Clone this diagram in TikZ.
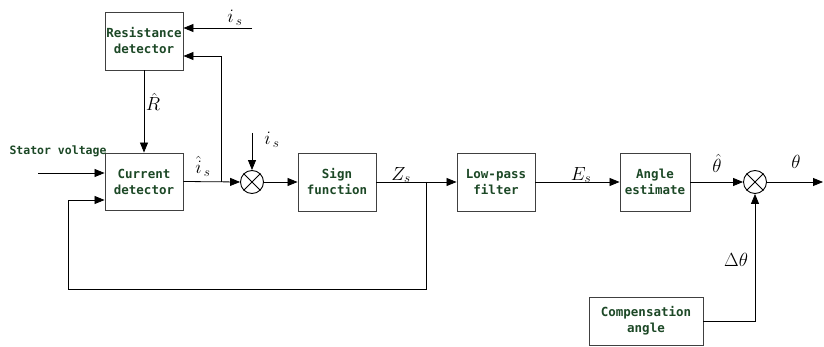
\documentclass[tikz,border=0pt]{standalone}
\usepackage{fix-cm}
\usepackage{fontspec}
\usetikzlibrary{arrows.meta,calc}
\newfontfamily\boxfont{DejaVu Sans Mono}
\definecolor{boxtext}{RGB}{28,72,38}
\tikzset{
  blk/.style={draw=black!75, line width=0.9pt, rectangle, minimum width=78pt, minimum height=58pt, inner sep=0pt, align=center, font=\boxfont\bfseries\fontsize{12.5}{16}\selectfont, text=boxtext},
  mult/.style={draw=black, line width=0.9pt, circle, minimum size=23pt, inner sep=0pt},
  conn/.style={draw=black, line width=0.8pt},
  arr/.style={conn, -{Triangle[length=10pt,width=8pt]}},
  lbl/.style={font=\fontsize{19}{22}\selectfont, inner sep=0pt}
}
\begin{document}
\begin{tikzpicture}[x=1pt,y=-1pt]
\useasboundingbox (0,0) rectangle (824,347);
% blocks
\node[blk] (res) at (144,41) {Resistance\\detector};
\node[blk, minimum height=57pt] (cur) at (144,181.5) {Current\\detector};
\node[mult] (m1) at (252,182) {};
\node[blk] (sign) at (337,182) {Sign\\function};
\node[blk] (lpf) at (496,182) {Low-pass\\filter};
\node[blk, minimum width=70pt] (ang) at (655,182) {Angle\\estimate};
\node[mult] (m2) at (755,182) {};
\node[blk, minimum width=114pt, minimum height=48pt] (comp) at (646,321) {Compensation\\angle};
\node[font=\boxfont\bfseries\fontsize{11.5}{14}\selectfont, text=boxtext, inner sep=0pt] (stv) at (58,151) {Stator voltage};
% crosses
\foreach \m in {m1,m2} {
  \draw[line width=0.8pt] (\m.45) -- (\m.225);
  \draw[line width=0.8pt] (\m.135) -- (\m.315);
}
% coordinates
\coordinate (isin) at (252,28);
\coordinate (b1) at (221,182);
\coordinate (stin) at (38,173);
\coordinate (b2) at (426,182);
\coordinate (fbc) at (68,289);
\coordinate (is2) at (252,133);
\coordinate (out) at (823,182);
% connectors
\draw[arr] (isin) -- ([yshift=13pt]res.east);
\draw[arr] (b1) |- ([yshift=-15pt]res.east);
\draw[arr] (res.south) -- (cur.north);
\draw[arr] (stin) -- ([yshift=8.5pt]cur.west);
\draw[arr] (b2) |- (fbc) |- ([yshift=-18.5pt]cur.west);
\draw[arr] (cur.east) -- (m1.west);
\draw[arr] (is2) -- (m1.north);
\draw[arr] (m1.east) -- (sign.west);
\draw[arr] (sign.east) -- (lpf.west);
\draw[arr] (lpf.east) -- (ang.west);
\draw[arr] (ang.east) -- (m2.west);
\draw[arr] (m2.east) -- (out);
\draw[arr] (comp.east) -| (m2.south);
% labels
\node[lbl] (l1) at (235,18) {$i_{\,s}$};
\node[lbl] (l2) at (153,102) {$\hat{R}$};
\node[lbl] (l3) at (203,166) {$\hat{i}_{\,s}$};
\node[lbl] (l4) at (272,140) {$i_{\,s}$};
\node[lbl] (l5) at (401,175) {$Z_{s}$};
\node[lbl] (l6) at (581,175) {$E_{s}$};
\node[lbl] (l7) at (717,163) {$\hat{\theta}$};
\node[lbl] (l8) at (796,162) {$\theta$};
\node[lbl] (l9) at (736,260) {$\Delta\theta$};
\end{tikzpicture}
\end{document}
